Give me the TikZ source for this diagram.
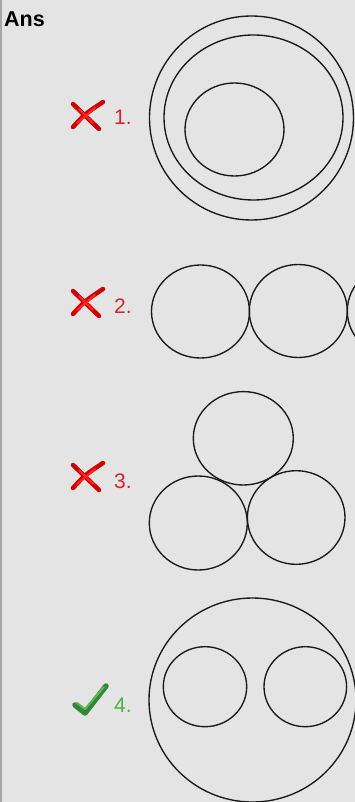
\documentclass[tikz,border=0pt]{standalone}
\usepackage{fontspec}
\setmainfont{Liberation Sans}
\usetikzlibrary{positioning}

\definecolor{panelbg}{RGB}{228,228,228}
\definecolor{wrongred}{RGB}{206,36,52}
\definecolor{rightgreen}{RGB}{72,176,72}

\tikzset{
  ring/.style={draw=black!90, line width=1.35pt},
  numlabel/.style={anchor=base west, inner sep=0pt, font=\fontsize{21}{24}\selectfont},
  brush/.style={line width=4.5pt, line cap=round, line join=round},
}

\begin{document}
\begin{tikzpicture}[x=1pt, y=-1pt]
    \fill[panelbg] (0,0) rectangle (355,802);
    \useasboundingbox (0,0) rectangle (355,802);
    \clip (0,0) rectangle (355,802);
    \draw[black!35, line width=3pt] (0,0) -- (0,802);

    \node[anchor=base west, inner sep=0pt, font=\bfseries\fontsize{21.5}{24}\selectfont]
        (ans) at (4,27) {Ans};

    % wrong answers 1-3
    \foreach \n/\ym in {1/116, 2/303, 3/477} {
        \begin{scope}[shift={(88,\ym)}]
            \draw[brush, red!80!black] (-15,11) .. controls (-3,-2) .. (15,-14);
            \draw[brush, red!80!black] (-15,-12) .. controls (-2,1) .. (11,13);
            \draw[line width=2pt, line cap=round, red!85!white] (-11,7) -- (7,-8);
            \draw[line width=2pt, line cap=round, red!85!white] (-9,-7) -- (5,7);
        \end{scope}
    }
    \node[numlabel, text=wrongred] (lab1) at (114,125) {1.};
    \node[numlabel, text=wrongred] (lab2) at (114,313) {2.};
    \node[numlabel, text=wrongred] (lab3) at (114,488) {3.};

    % right answer 4
    \draw[brush, line width=5.5pt, rightgreen!75!black] (75,705) -- (85,713) -- (106,686);
    \draw[line width=2pt, line cap=round, line join=round, rightgreen!90!white]
        (77,703) -- (85,709) -- (104,687);
    \node[numlabel, text=rightgreen] (lab4) at (114,712) {4.};

    % 1: nested circles
    \draw[ring] (251.5,118) circle [radius=102];
    \draw[ring] (253.5,117.5) circle [x radius=89.5, y radius=82.5];
    \draw[ring] (234.5,129.5) circle [x radius=49.5, y radius=46.5];

    % 2: circles in a row
    \draw[ring] (200.5,311.5) circle [x radius=49, y radius=46.5];
    \draw[ring] (298.3,311) circle [x radius=49, y radius=46.5];
    \draw[ring] (396.3,311) circle [x radius=49, y radius=46.5];

    % 3: three touching circles
    \draw[ring] (243.3,438.3) circle [x radius=50, y radius=46.7];
    \draw[ring] (198.3,523) circle [x radius=49, y radius=47];
    \draw[ring] (296.2,517.5) circle [x radius=48.8, y radius=46.8];

    % 4: two circles inside one
    \draw[ring] (252.5,700) circle [x radius=103.5, y radius=102];
    \draw[ring] (205,686.7) circle [x radius=41.7, y radius=40];
    \draw[ring] (305.3,686.7) circle [x radius=41.3, y radius=40];
\end{tikzpicture}
\end{document}
